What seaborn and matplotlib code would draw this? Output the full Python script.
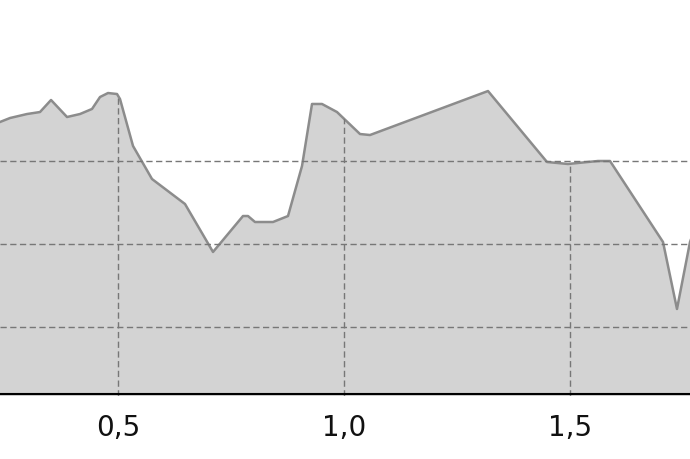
import numpy as np
import pandas as pd
import matplotlib
matplotlib.use("Agg")
import matplotlib.pyplot as plt
import seaborn as sns

x_vals = [0.2168, 0.2389, 0.2611, 0.2987, 0.3274, 0.3518, 0.3872, 0.4159, 0.4425,
          0.4602, 0.4779, 0.4978, 0.5044, 0.5332, 0.5752, 0.6482, 0.7102, 0.7765,
          0.7876, 0.8031, 0.8429, 0.8761, 0.9071, 0.9292, 0.9513, 0.9845, 1.0354,
          1.0575, 1.3186, 1.4491, 1.4956, 1.5619, 1.5885, 1.7058, 1.7367, 1.7655,
          1.7876]
y_vals = [3.422, 3.470, 3.518, 3.566, 3.590, 3.735, 3.530, 3.566, 3.627,
          3.771, 3.819, 3.807, 3.747, 3.181, 2.783, 2.482, 1.904, 2.337,
          2.337, 2.265, 2.265, 2.337, 2.940, 3.687, 3.687, 3.590, 3.325,
          3.313, 3.843, 2.988, 2.964, 3.000, 3.000, 2.024, 1.217, 2.024,
          2.361]
x_ticks = [0.5, 1.0, 1.5]
x_tick_labels = ["0,5", "1,0", "1,5"]
y_grid = [1, 2, 3]

df = pd.DataFrame({"x": x_vals, "y": y_vals})

sns.set_style("white")
fig = plt.figure(figsize=(6.9, 4.6), dpi=100)
ax = fig.add_axes([0, 63 / 460, 1, 397 / 460])

y_bottom = 1 + (328 - 397) / 83
y_top = 1 + 328 / 83

area = ax.fill_between(df["x"], df["y"], y_bottom - 1, color="#d3d3d3",
                       linewidth=0, zorder=1)
sns.lineplot(data=df, x="x", y="y", ax=ax, color="#8c8c8c", linewidth=1.8,
             sort=False, zorder=2)

ax.set_xlim(0.2389, 1.7655)
ax.set_ylim(y_bottom, y_top)
ax.set_xticks(x_ticks)
ax.set_xticklabels(x_tick_labels)
ax.set_yticks(y_grid)
ax.set_yticklabels([])
ax.set_xlabel("")
ax.set_ylabel("")
ax.grid(True, linestyle=(0, (4.5, 2.5)), color="#777777", linewidth=1.0, zorder=3)
ax.set_axisbelow(False)
for s in ["top", "left", "right"]:
    ax.spines[s].set_visible(False)
ax.spines["bottom"].set_position(("data", 1 + (328 - 395) / 83))
ax.spines["bottom"].set_color("black")
ax.spines["bottom"].set_linewidth(1.5)
ax.spines["bottom"].set_zorder(4)
ax.tick_params(axis="x", length=0, pad=14, labelsize=20, labelcolor="#111111")
ax.tick_params(axis="y", length=0)

fig.canvas.draw()
clip_path = area.get_paths()[0]
for gl in ax.get_xgridlines():
    gl.set_clip_path(clip_path, ax.transData)

fig.savefig("out.png", dpi=100)
